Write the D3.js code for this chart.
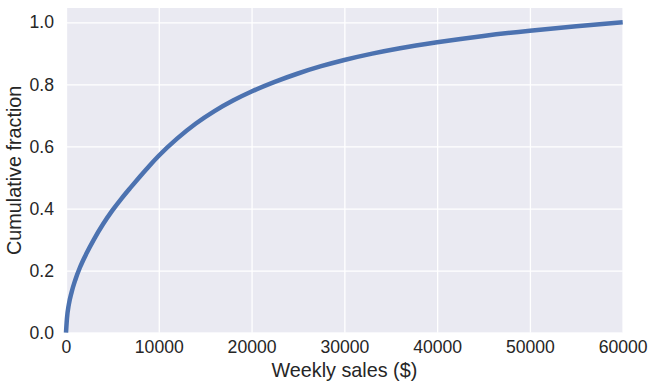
<!DOCTYPE html>
<html>
<head>
<meta charset="utf-8">
<script src="https://cdn.jsdelivr.net/npm/d3@7"></script>
<style>
  body { margin: 0; background: #fff; }
  svg { display: block; font-family: "Liberation Sans", Arial, sans-serif; }
</style>
</head>
<body>
<div id="chart"></div>
<script>
// cumulative distribution of weekly sales
const salesValues = [0, 100, 300, 600, 1000, 1500, 2200, 3000, 4000, 5000, 6000, 7000, 8000, 9000, 10000,
  12000, 14000, 16000, 18000, 20000, 22500, 25000, 27500, 30000, 33000, 36000, 40000, 45000, 50000, 55000, 60000];
const cumFraction = [0, 0.045, 0.09, 0.13, 0.17, 0.21, 0.255, 0.30, 0.35, 0.394, 0.433, 0.469, 0.504, 0.538, 0.57,
  0.626, 0.674, 0.714, 0.748, 0.777, 0.808, 0.835, 0.8585, 0.8785, 0.899, 0.9163, 0.9355, 0.956, 0.973, 0.9875, 1.0];
const xTicks = [0, 10000, 20000, 30000, 40000, 50000, 60000];
const yTicks = [0, 0.2, 0.4, 0.6, 0.8, 1.0];

const data = salesValues.map((s, i) => ({ sales: s, frac: cumFraction[i] }));

const width = 654, height = 392;
const margin = { left: 66, top: 8, right: 31.3, bottom: 59.3 };
const chartWidth = width - margin.left - margin.right;
const chartHeight = height - margin.top - margin.bottom;

const svg = d3.select("#chart").append("svg")
  .attr("width", width)
  .attr("height", height);

const g = svg.append("g").attr("transform", `translate(${margin.left},${margin.top})`);

// scales
const xScale = d3.scaleLinear().domain([0, 60000]).range([0, chartWidth]);
const yScale = d3.scaleLinear().domain([0, 1.046]).range([chartHeight, 0]);

// background
g.append("rect")
  .attr("width", chartWidth)
  .attr("height", chartHeight)
  .attr("fill", "#EAEAF2");

// grid lines
g.append("g")
  .call(d3.axisBottom(xScale).tickValues(xTicks).tickSize(chartHeight).tickFormat(""))
  .call((s) => s.select(".domain").remove())
  .selectAll("line").attr("stroke", "#fff").attr("stroke-width", 1.3);
g.append("g")
  .call(d3.axisLeft(yScale).tickValues(yTicks).tickSize(-chartWidth).tickFormat(""))
  .call((s) => s.select(".domain").remove())
  .selectAll("line").attr("stroke", "#fff").attr("stroke-width", 1.3);

// tick labels
const xAxis = g.append("g")
  .attr("transform", `translate(0,${chartHeight})`)
  .call(d3.axisBottom(xScale).tickValues(xTicks).tickSize(0).tickPadding(8).tickFormat(d3.format("d")));
xAxis.select(".domain").remove();
xAxis.selectAll("text").attr("font-size", 17.6).attr("fill", "#262626").attr("font-family", null);

const yAxis = g.append("g")
  .call(d3.axisLeft(yScale).tickValues(yTicks).tickSize(0).tickPadding(12).tickFormat(d3.format(".1f")));
yAxis.select(".domain").remove();
yAxis.selectAll("text").attr("font-size", 17.6).attr("fill", "#262626").attr("font-family", null);

// line
const line = d3.line()
  .x((d) => xScale(d.sales))
  .y((d) => yScale(d.frac))
  .curve(d3.curveMonotoneX);

g.append("path")
  .datum(data)
  .attr("fill", "none")
  .attr("stroke", "#4C72B0")
  .attr("stroke-width", 4.5)
  .attr("d", line);

// axis labels
svg.append("text")
  .attr("x", margin.left + chartWidth / 2)
  .attr("y", 377)
  .attr("text-anchor", "middle")
  .attr("font-size", 19.8)
  .attr("fill", "#262626")
  .text("Weekly sales ($)");

svg.append("text")
  .attr("transform", `translate(21,${margin.top + chartHeight / 2}) rotate(-90)`)
  .attr("text-anchor", "middle")
  .attr("font-size", 19.8)
  .attr("fill", "#262626")
  .text("Cumulative fraction");
</script>
</body>
</html>
